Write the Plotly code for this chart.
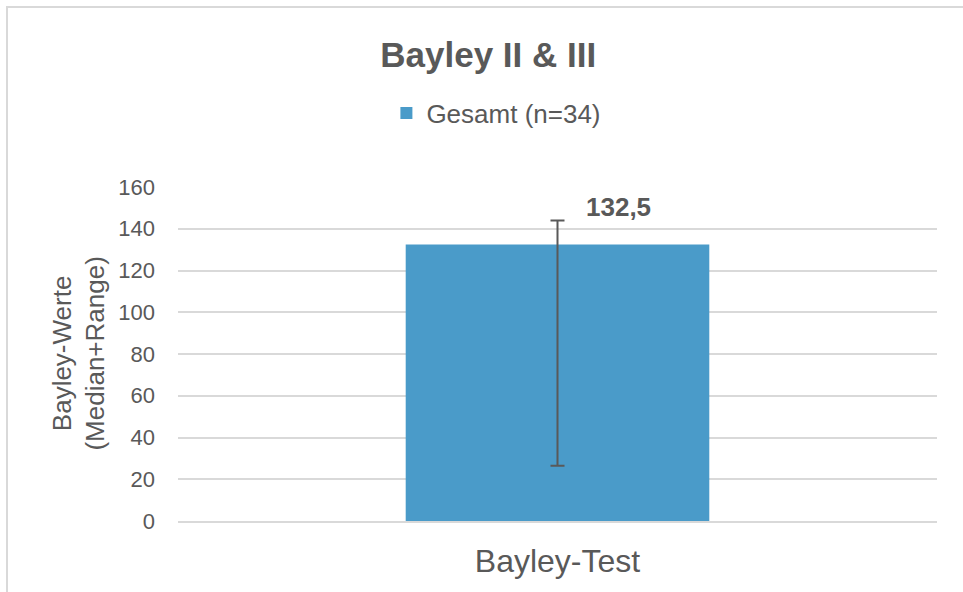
import plotly.graph_objects as go

categories = ["Bayley-Test"]
series_name = "Gesamt (n=34)"
median_values = [132.5]
range_max = [144.0]
range_min = [26.5]
label_texts = ["132,5"]
y_ticks = [0, 20, 40, 60, 80, 100, 120, 140, 160]

err_plus = [hi - m for hi, m in zip(range_max, median_values)]
err_minus = [m - lo for lo, m in zip(range_min, median_values)]

FONT = "Liberation Sans, Arial, Helvetica, sans-serif"
TXT = "#595959"
GRID = "#d9d9d9"

fig = go.Figure()
fig.add_trace(go.Bar(
    x=categories, y=median_values, name=series_name,
    marker=dict(color="#4a9bc9", line=dict(width=0)),
    error_y=dict(type="data", symmetric=False, array=err_plus, arrayminus=err_minus,
                 color=TXT, thickness=2, width=7),
))

for c, top, t in zip(categories, range_max, label_texts):
    fig.add_annotation(x=c, y=top, text="<b>" + t + "</b>", showarrow=False,
                       xshift=61, yshift=13, font=dict(size=26, color=TXT, family=FONT))

fig.add_annotation(xref="paper", yref="paper", x=-0.131, y=0.5,
                   text="Bayley-Werte<br>(Median+Range)", textangle=-90, showarrow=False,
                   font=dict(size=26, color=TXT, family=FONT), xanchor="center", yanchor="middle")

# chart border
fig.add_shape(type="rect", xref="paper", yref="paper",
              x0=(7 - 178) / 759, x1=(1000 - 178) / 759,
              y0=(521 - 620) / 334, y1=(521 - 7) / 334,
              line=dict(color=GRID, width=2), layer="below")

fig.update_layout(
    width=963, height=592,
    margin=dict(l=178, r=26, t=187, b=71),
    paper_bgcolor="white", plot_bgcolor="white",
    font=dict(family=FONT, color=TXT),
    title=dict(text="<b>Bayley II & III</b>", x=0.507, xanchor="center", y=1 - 55 / 592,
               yanchor="middle", font=dict(size=35, color=TXT, family=FONT)),
    legend=dict(orientation="h", x=0.4195, xanchor="center", y=(521 - 113) / 334, yanchor="middle",
                font=dict(size=26, color=TXT, family=FONT), itemwidth=30),
    showlegend=True,
    bargap=0.6,
    xaxis=dict(showgrid=False, showline=True, linecolor=GRID, linewidth=2, automargin=False,
               tickfont=dict(size=32, color=TXT, family=FONT), ticks="", ticklabelstandoff=11),
    yaxis=dict(range=[0, 160], tickvals=y_ticks, showgrid=True, gridcolor=GRID, gridwidth=2,
               zeroline=False, showline=False, ticks="", automargin=False,
               tickfont=dict(size=22, color=TXT, family=FONT), ticklabelstandoff=22),
)

fig.write_html("out.html", post_script="document.body.style.margin='0';",
               config={"displayModeBar": False})
